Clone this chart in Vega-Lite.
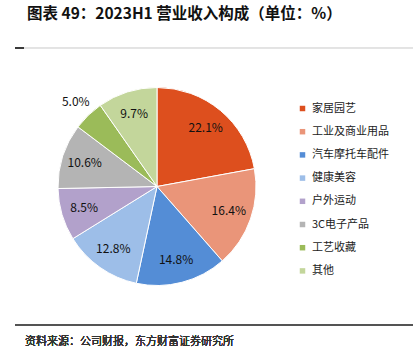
{
  "$schema": "https://vega.github.io/schema/vega-lite/v6.json",
  "width": 398,
  "height": 277,
  "autosize": {"type": "none"},
  "padding": {"left": 15, "top": 48, "right": 0, "bottom": 31},
  "background": "white",
  "config": {"view": {"stroke": null}, "font": "Noto Sans CJK SC"},
  "title": {
    "text": "图表 49：2023H1 营业收入构成（单位：%）",
    "anchor": "start",
    "frame": "group",
    "dx": 12,
    "offset": 25,
    "fontSize": 15.5,
    "fontWeight": "bold",
    "font": "Noto Sans CJK SC",
    "color": "#111111"
  },
  "data": {
    "values": [
      {"k": 1, "cat": "家居园艺", "v": 0.221},
      {"k": 2, "cat": "工业及商业用品", "v": 0.164},
      {"k": 3, "cat": "汽车摩托车配件", "v": 0.148},
      {"k": 4, "cat": "健康美容", "v": 0.128},
      {"k": 5, "cat": "户外运动", "v": 0.085},
      {"k": 6, "cat": "3C电子产品", "v": 0.106},
      {"k": 7, "cat": "工艺收藏", "v": 0.05},
      {"k": 8, "cat": "其他", "v": 0.097}
    ]
  },
  "layer": [
    {
      "mark": {"type": "arc", "x": 142, "outerRadius": 99, "stroke": "white", "strokeWidth": 1},
      "encoding": {
        "theta": {"field": "v", "type": "quantitative", "stack": true},
        "order": {"field": "k", "type": "quantitative"},
        "color": {
          "field": "cat",
          "type": "nominal",
          "scale": {
            "domain": ["家居园艺", "工业及商业用品", "汽车摩托车配件", "健康美容", "户外运动", "3C电子产品", "工艺收藏", "其他"],
            "range": ["#DD4F1E", "#EA9579", "#548DD6", "#9DBEE8", "#B2A1CB", "#B4B4B4", "#9BBB59", "#C3D69B"]
          },
          "legend": {
            "title": null,
            "orient": "none",
            "legendX": 282,
            "legendY": 55,
            "symbolType": "square",
            "symbolSize": 30,
            "symbolStrokeWidth": 0,
            "labelFontSize": 11,
            "labelFont": "Noto Sans CJK SC",
            "labelColor": "#222222",
            "labelOffset": 4,
            "rowPadding": 11.2,
            "padding": 0
          }
        }
      }
    },
    {
      "mark": {
        "type": "text",
        "x": 142,
        "radius": {"expr": "datum.cat === '工艺收藏' ? 117 : 76"},
        "fontSize": 12,
        "font": "Noto Sans CJK SC",
        "color": "#111111"
      },
      "encoding": {
        "theta": {"field": "v", "type": "quantitative", "stack": true},
        "order": {"field": "k", "type": "quantitative"},
        "text": {"field": "v", "type": "quantitative", "format": ".1%"}
      }
    },
    {
      "mark": {"type": "rule", "stroke": "#E3E3E3", "strokeWidth": 1},
      "encoding": {"x": {"value": 0}, "x2": {"value": "width"}, "y": {"value": 0}}
    },
    {
      "mark": {"type": "rule", "stroke": "#3A3A3A", "strokeWidth": 2},
      "encoding": {"x": {"value": 0}, "x2": {"value": 9}, "y": {"value": 0}}
    },
    {
      "mark": {"type": "rule", "stroke": "#555555", "strokeWidth": 1.2},
      "encoding": {"x": {"value": 0}, "x2": {"value": "width"}, "y": {"value": "height"}}
    },
    {
      "mark": {"type": "text", "x": 10, "y": "height", "dy": 17, "align": "left", "fontSize": 11, "fontWeight": 300, "font": "Noto Sans CJK SC", "color": "#333333"},
      "encoding": {"text": {"value": "资料来源：公司财报，东方财富证券研究所"}}
    }
  ]
}
